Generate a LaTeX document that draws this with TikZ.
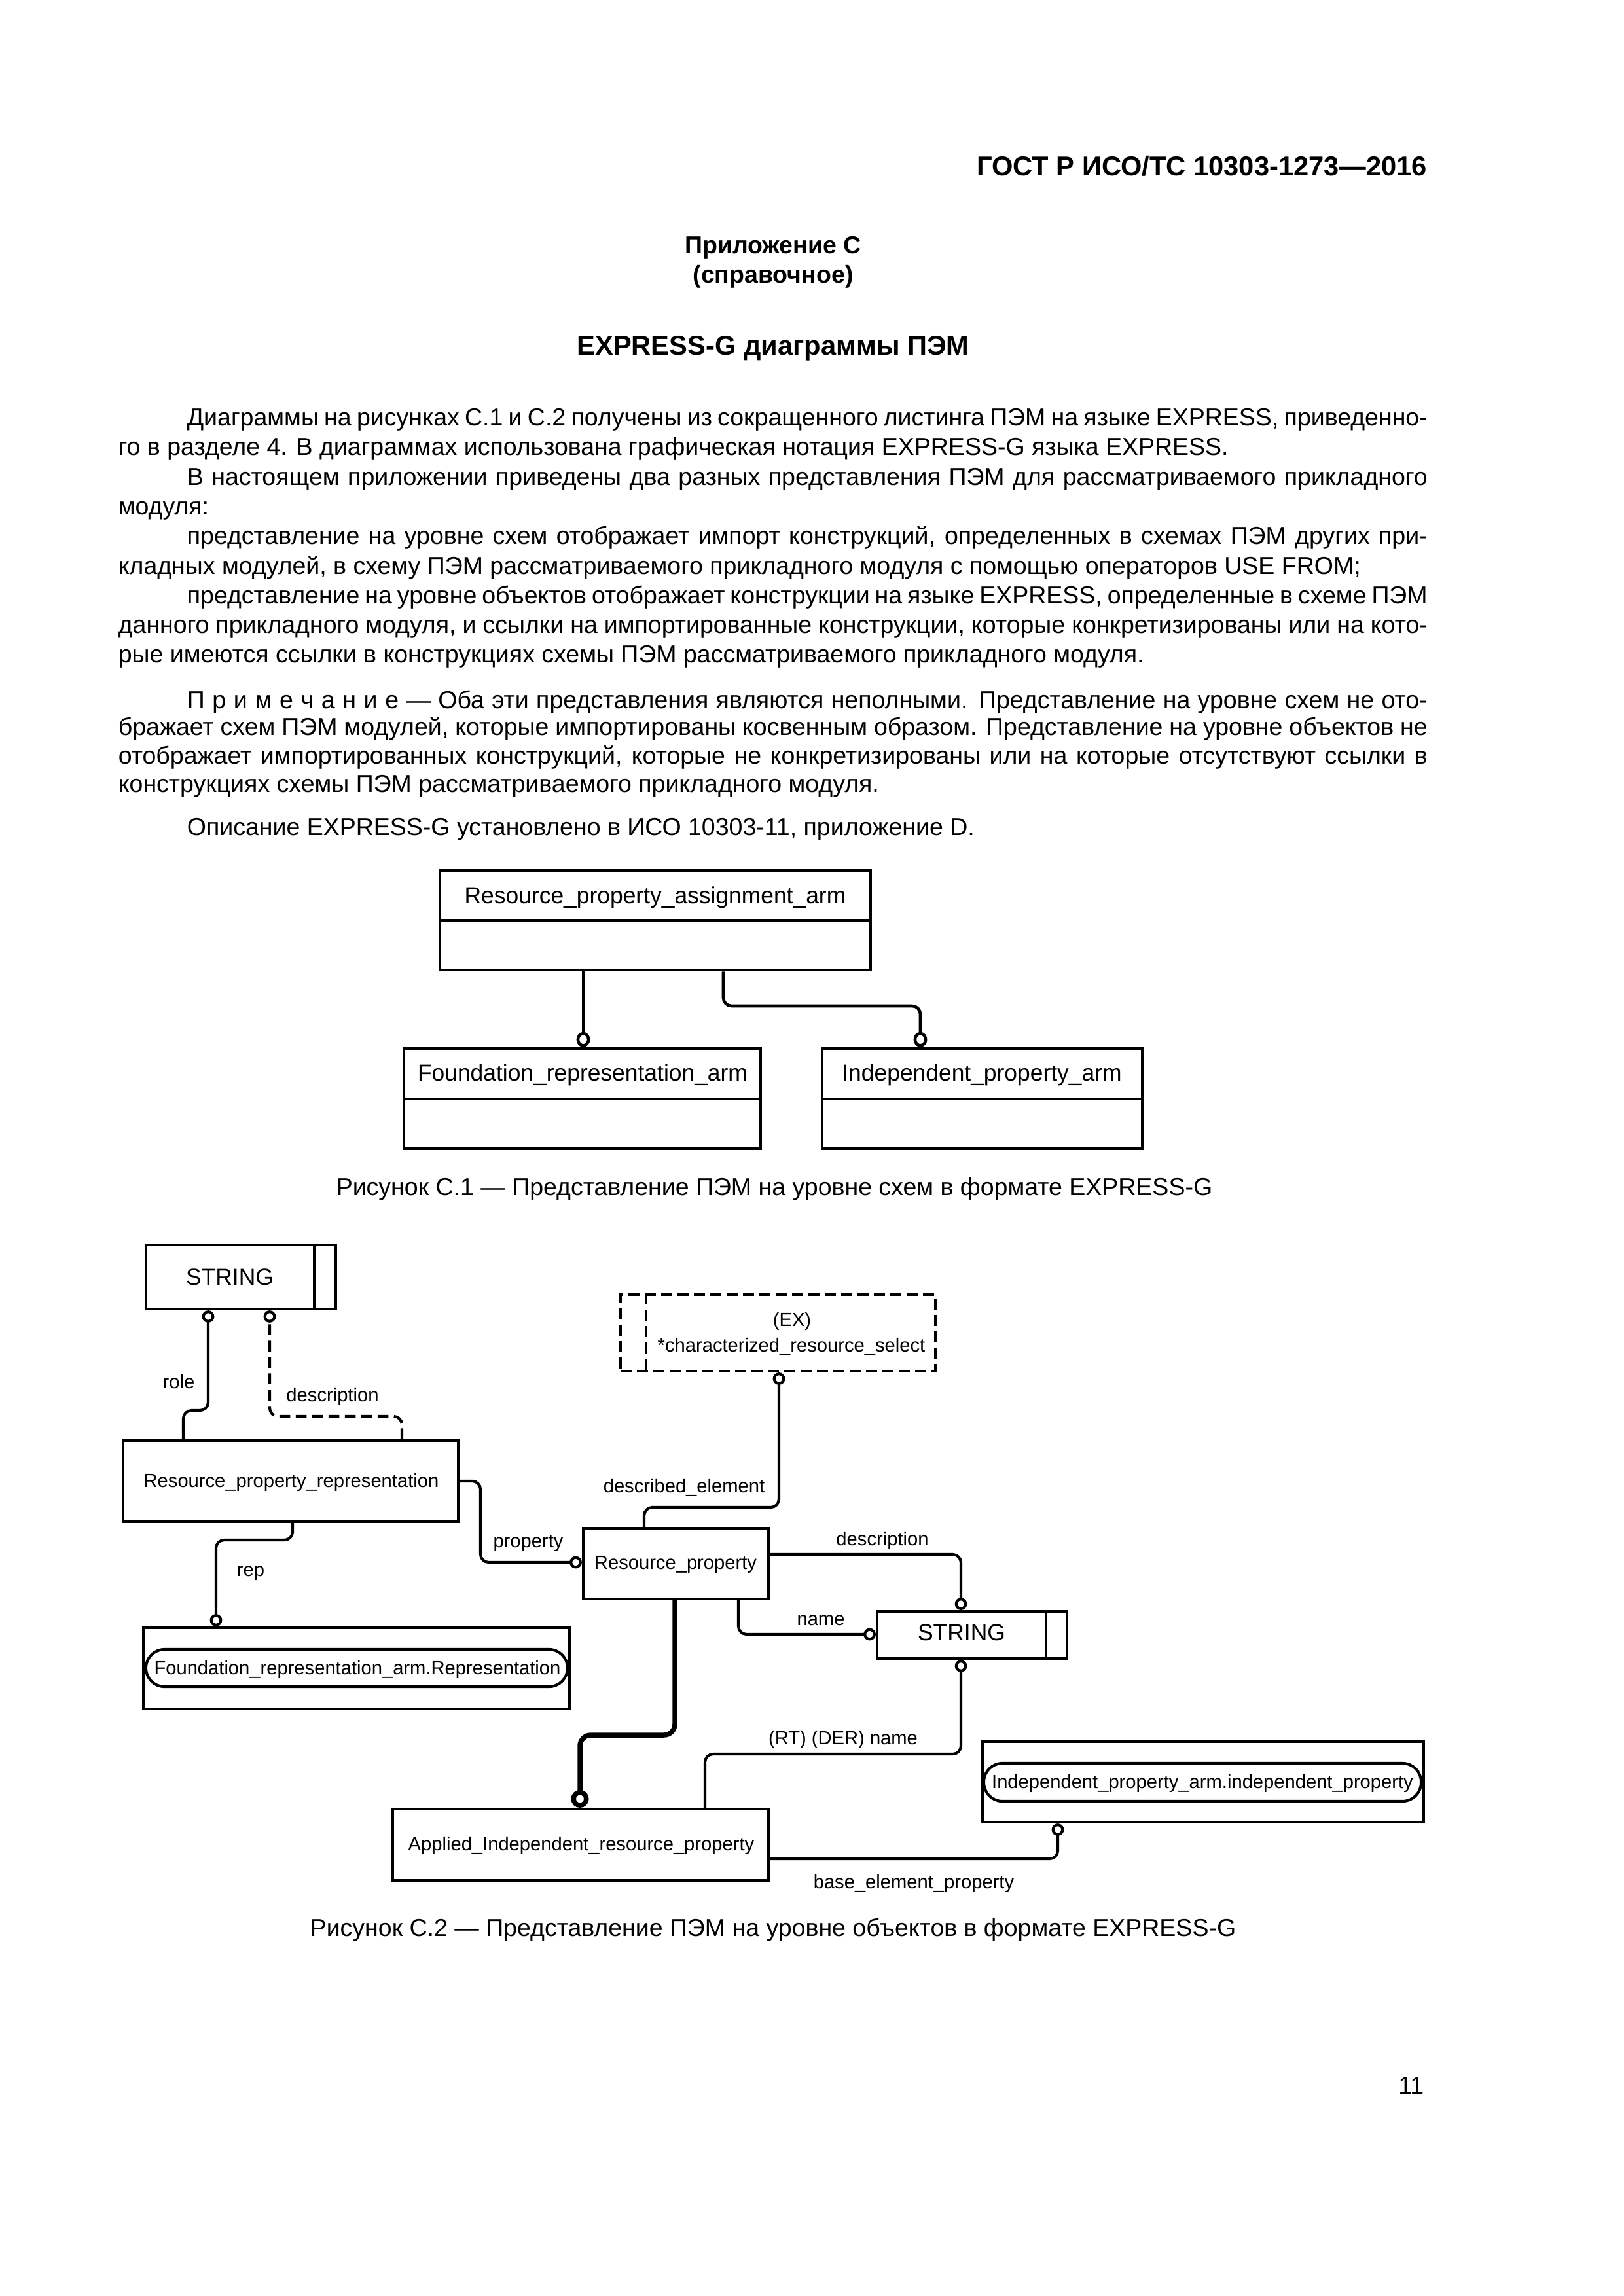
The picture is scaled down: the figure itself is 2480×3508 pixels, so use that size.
\documentclass[tikz,border=0pt]{standalone}
\usepackage{fontspec}
\setmainfont{Liberation Sans}
\usetikzlibrary{arrows.meta,calc,fit}

\newcommand{\jline}[2]{\makebox[#1][s]{#2}}

\tikzset{
  body/.style={anchor=base west, inner sep=0pt, font=\fontsize{9pt}{11pt}\selectfont},
  capt/.style={anchor=base, inner sep=0pt, font=\fontsize{9pt}{11pt}\selectfont},
  ttl/.style={anchor=base, inner sep=0pt, font=\fontsize{10pt}{12pt}\selectfont\bfseries},
  ent/.style={draw, line width=1pt, inner sep=0pt},
  optent/.style={ent, dash pattern=on 4pt off 2pt},
  big/.style={anchor=base, inner sep=0pt, font=\fontsize{8.5pt}{10pt}\selectfont},
  lbl/.style={anchor=base, inner sep=0pt, font=\fontsize{7pt}{8pt}\selectfont},
  rel/.style={line width=1pt, rounded corners=3pt, -{Circle[open,length=4.5pt,width=4.5pt]}},
  relbig/.style={rel, line width=1.1pt, -{Circle[open,length=5.5pt,width=5pt]}},
  relthick/.style={line width=1.8pt, rounded corners=4pt, -{Circle[open,length=6.5pt,width=6.5pt]}},
  optrel/.style={rel, dash pattern=on 4pt off 2pt},
}

\begin{document}
\begin{tikzpicture}[x=0.24pt, y=-0.24pt]
	\useasboundingbox (0,0) rectangle (2480,3508);

	% page head
	\node[ttl, anchor=base east] (head) at (2181,269) {ГОСТ Р ИСО/ТС 10303-1273—2016};
	\node[ttl, font=\fontsize{9pt}{11pt}\selectfont\bfseries] (annex) at (1181,388) {Приложение С};
	\node[ttl, font=\fontsize{9pt}{11pt}\selectfont\bfseries] (annexkind) at (1181,433) {(справочное)};
	\node[ttl] (title) at (1181,543) {EXPRESS-G диаграммы ПЭМ};

	% text
	\node[body] (p1a) at (285,651) {\jline{454.8pt}{Диаграммы на рисунках С.1 и С.2 получены из сокращенного листинга ПЭМ на языке EXPRESS, приведенно-}};
	\node[body] (p1b) at (180,696) {го в разделе 4. В диаграммах использована графическая нотация EXPRESS-G языка EXPRESS.};
	\node[body] (p2a) at (285,742) {\jline{454.8pt}{В настоящем приложении приведены два разных представления ПЭМ для рассматриваемого прикладного}};
	\node[body] (p2b) at (180,787) {модуля:};
	\node[body] (p3a) at (285,832) {\jline{454.8pt}{представление на уровне схем отображает импорт конструкций, определенных в схемах ПЭМ других при-}};
	\node[body] (p3b) at (180,878) {кладных модулей, в схему ПЭМ рассматриваемого прикладного модуля с помощью операторов USE FROM;};
	\node[body] (p4a) at (285,923) {\jline{454.8pt}{представление на уровне объектов отображает конструкции на языке EXPRESS, определенные в схеме ПЭМ}};
	\node[body] (p4b) at (180,968) {\jline{480pt}{данного прикладного модуля, и ссылки на импортированные конструкции, которые конкретизированы или на кото-}};
	\node[body] (p4c) at (180,1013) {рые имеются ссылки в конструкциях схемы ПЭМ рассматриваемого прикладного модуля.};
	\node[body] (n1) at (285,1082) {\jline{454.8pt}{П\kern2.8pt р\kern2.8pt и\kern2.8pt м\kern2.8pt е\kern2.8pt ч\kern2.8pt а\kern2.8pt н\kern2.8pt и\kern2.8pt е — Оба эти представления являются неполными. Представление на уровне схем не ото-}};
	\node[body] (n2) at (180,1123) {\jline{480pt}{бражает схем ПЭМ модулей, которые импортированы косвенным образом. Представление на уровне объектов не}};
	\node[body] (n3) at (180,1167) {\jline{480pt}{отображает импортированных конструкций, которые не конкретизированы или на которые отсутствуют ссылки в}};
	\node[body] (n4) at (180,1210) {конструкциях схемы ПЭМ рассматриваемого прикладного модуля.};
	\node[body] (p5) at (285,1276) {Описание EXPRESS-G установлено в ИСО 10303-11, приложение D.};

	% figure C.1
	\node[ent, line width=1.1pt, fit={(672,1330) (1330,1482)}] (rpaa) {};
	\draw[line width=1.1pt] (rpaa.west |- 0,1406) -- (rpaa.east |- 0,1406);
	\node[big] at (1001,1380) {Resource\_property\_assignment\_arm};
	\node[ent, line width=1.1pt, fit={(617,1602) (1162,1755)}] (fra1) {};
	\draw[line width=1.1pt] (fra1.west |- 0,1679) -- (fra1.east |- 0,1679);
	\node[big] at (890,1651) {Foundation\_representation\_arm};
	\node[ent, line width=1.1pt, fit={(1256,1602) (1745,1755)}] (ipa1) {};
	\draw[line width=1.1pt] (ipa1.west |- 0,1679) -- (ipa1.east |- 0,1679);
	\node[big] at (1500,1651) {Independent\_property\_arm};
	\draw[relbig] (rpaa.south -| 891,0) -- (fra1.north -| 891,0);
	\draw[relbig] (rpaa.south -| 1105,0) -- (1105,1537) -- (1406,1537) -- (ipa1.north -| 1406,0);
	\node[capt] (cap1) at (1183,1826) {Рисунок С.1 — Представление ПЭМ на уровне схем в формате EXPRESS-G};

	% figure C.2, boxes
	\node[ent, fit={(223,1902) (513,2000)}] (str1) {};
	\draw[line width=1pt] (str1.north -| 480,0) -- (str1.south -| 480,0);
	\node[big] at (351,1963) {STRING};
	\node[ent, fit={(188,2201) (700,2325)}] (rpr) {};
	\node[lbl] at (445,2272) {Resource\_property\_representation};
	\node[ent, fit={(219,2487) (870,2611)}] (fra2) {};
	\node[ent, rounded corners=6.8pt, fit={(223,2520) (867,2577)}] (fra2i) {};
	\node[lbl] at (546,2558) {Foundation\_representation\_arm.Representation};
	\node[optent, fit={(948,1978) (1429,2095)}] (ex) {};
	\draw[line width=1pt, dash pattern=on 4pt off 2pt] (ex.north -| 987,0) -- (ex.south -| 987,0);
	\node[lbl] at (1210,2026) {(EX)};
	\node[lbl] at (1209,2065) {*characterized\_resource\_select};
	\node[ent, fit={(891,2335) (1174,2443)}] (rp) {};
	\node[lbl] at (1032,2397) {Resource\_property};
	\node[ent, fit={(1340,2462) (1630,2534)}] (str2) {};
	\draw[line width=1pt] (str2.north -| 1598,0) -- (str2.south -| 1598,0);
	\node[big] at (1469,2506) {STRING};
	\node[ent, fit={(600,2764) (1174,2873)}] (airp) {};
	\node[lbl] at (888,2827) {Applied\_Independent\_resource\_property};
	\node[ent, fit={(1501,2661) (2175,2784)}] (ipa2) {};
	\node[ent, rounded corners=6.8pt, fit={(1503,2694) (2171,2752)}] (ipa2i) {};
	\node[lbl] at (1837,2732) {Independent\_property\_arm.independent\_property};

	% figure C.2, relations
	\draw[rel] (rpr.north -| 280,0) -- (280,2155) -- (318,2155) -- (str1.south -| 318,0);
	\node[lbl] at (273,2121) {role};
	\draw[optrel] (rpr.north -| 614,0) -- (614,2164) -- (412,2164) -- (str1.south -| 412,0);
	\node[lbl] at (508,2141) {description};
	\draw[rel] (rpr.east |- 0,2263) -- (734,2263) -- (734,2387) -- (rp.west |- 0,2387);
	\node[lbl] at (807,2364) {property};
	\draw[rel] (rpr.south -| 447,0) -- (447,2353) -- (330,2353) -- (fra2.north -| 330,0);
	\node[lbl] at (383,2408) {rep};
	\draw[rel] (rp.north -| 984,0) -- (984,2303) -- (1190,2303) -- (ex.south -| 1190,0);
	\node[lbl] at (1045,2280) {described\_element};
	\draw[rel] (rp.east |- 0,2375) -- (1468,2375) -- (str2.north -| 1468,0);
	\node[lbl] at (1348,2361) {description};
	\draw[rel] (rp.south -| 1128,0) -- (1128,2497) -- (str2.west |- 0,2497);
	\node[lbl] at (1254,2483) {name};
	\draw[rel] (airp.north -| 1077,0) -- (1077,2680) -- (1468,2680) -- (str2.south -| 1468,0);
	\node[lbl] at (1288,2665) {(RT) (DER) name};
	\draw[relthick] (rp.south -| 1031,0) -- (1031,2651) -- (886,2651) -- (airp.north -| 886,0);
	\draw[rel] (airp.east |- 0,2840) -- (1616,2840) -- (ipa2.south -| 1616,0);
	\node[lbl] at (1396,2885) {base\_element\_property};
	\node[capt] (cap2) at (1181,2958) {Рисунок С.2 — Представление ПЭМ на уровне объектов в формате EXPRESS-G};

	% page number
	\node[body, anchor=base east] (pageno) at (2176,3199) {11};
\end{tikzpicture}
\end{document}
